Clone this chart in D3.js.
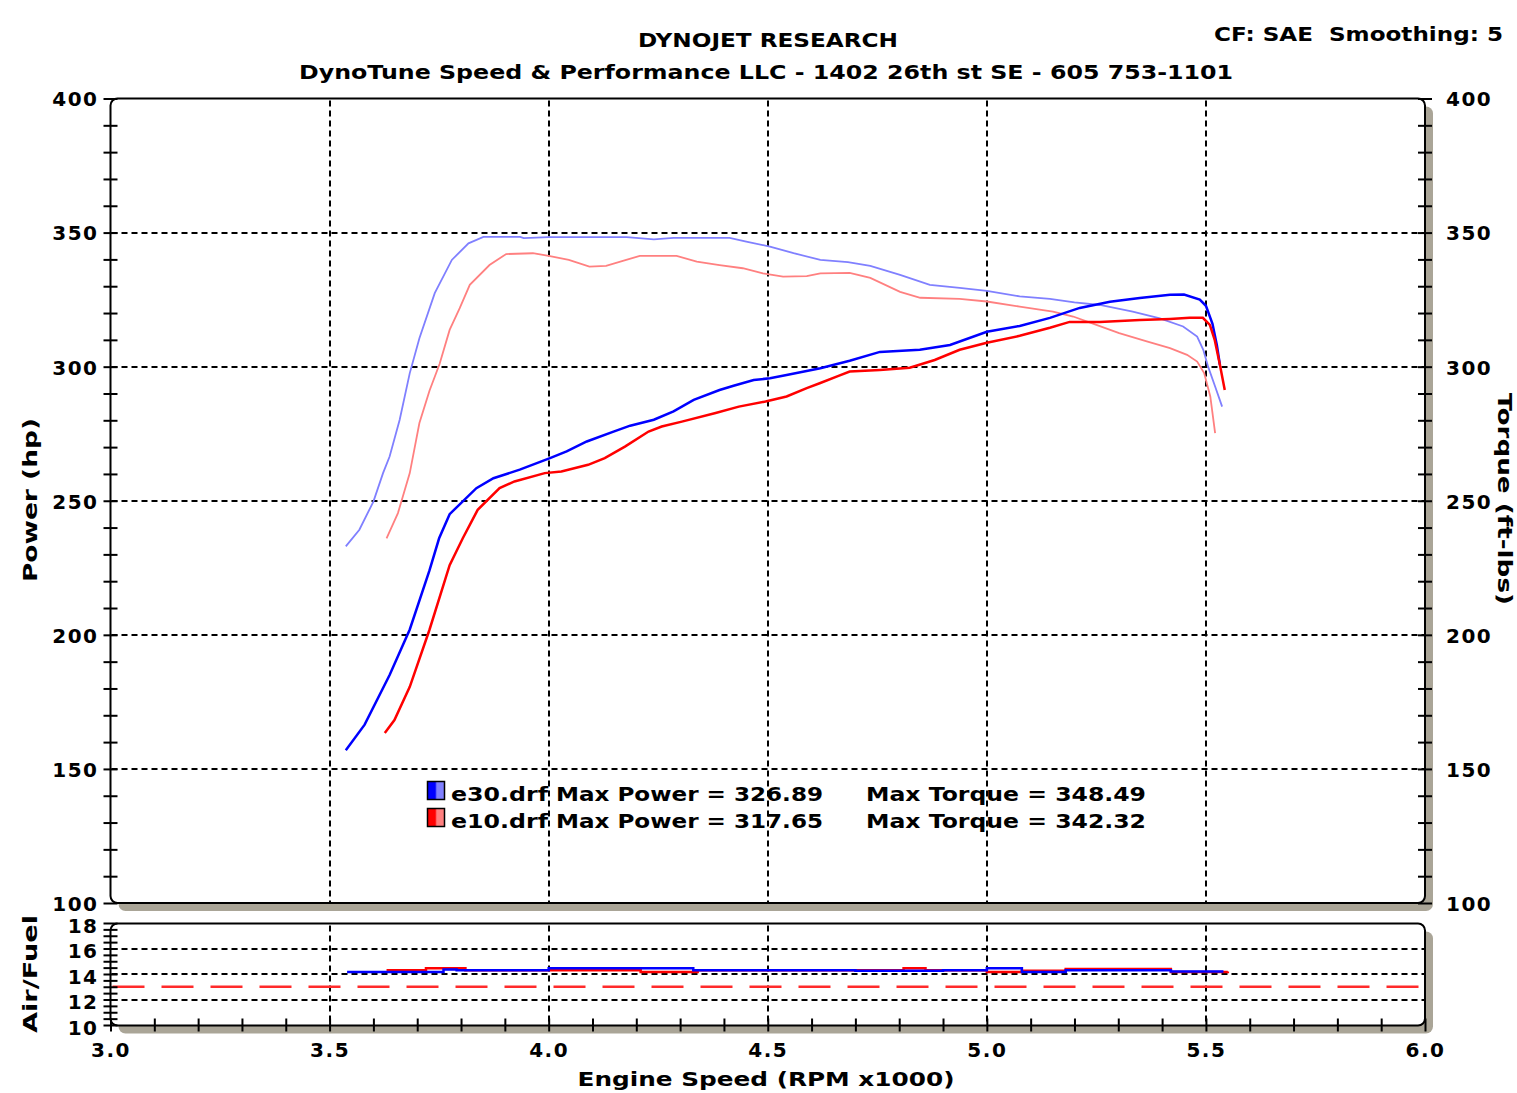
<!DOCTYPE html>
<html><head><meta charset="utf-8">
<script src="https://cdn.jsdelivr.net/npm/d3@7"></script>
<style>
html,body{margin:0;padding:0;background:#fff;}
text{font-family:"DejaVu Sans",Verdana,sans-serif;font-weight:bold;fill:#000;}
</style></head>
<body>
<script>
// ---------------- DATA ----------------
const e30PowerRpm = [3.537,3.58,3.637,3.683,3.728,3.75,3.774,3.835,3.874,3.934,4.003,4.041,4.087,4.148,4.186,4.24,4.285,4.331,4.39,4.422,4.468,4.505,4.543,4.62,4.687,4.756,4.847,4.916,5.0,5.075,5.144,5.212,5.281,5.349,5.418,5.45,5.486,5.5,5.515,5.525,5.532];
const e30Power    = [157,166.5,185,202,224,236,245,254.7,258.4,261.6,265.9,268.4,272.1,275.8,278,280.2,283.3,287.6,291.3,292.9,295,295.7,296.9,299.4,302.2,305.5,306.3,308.1,313,315.2,318.2,321.9,324.2,325.6,326.8,326.9,325,322.7,316,308,300.6];

const e10PowerRpm = [3.626,3.648,3.683,3.728,3.774,3.804,3.838,3.888,3.922,3.991,4.029,4.09,4.128,4.174,4.228,4.258,4.304,4.381,4.434,4.495,4.543,4.589,4.62,4.66,4.687,4.756,4.824,4.881,4.938,5.0,5.075,5.144,5.189,5.258,5.349,5.418,5.463,5.493,5.509,5.52,5.532,5.543];
const e10Power    = [163.4,168.2,180.6,201.9,226,236,246.6,254.7,257.2,260.3,260.9,263.4,265.9,270.2,275.8,277.7,279.5,282.7,285.1,287,288.9,292,293.9,296.5,298.2,298.8,299.6,302.5,306.3,308.9,311.5,314.5,316.7,316.7,317.4,317.8,318.2,318.2,315.6,310,300.6,291.3];

const e30TorqueRpm = [3.537,3.568,3.6,3.622,3.637,3.66,3.683,3.705,3.74,3.779,3.817,3.851,3.935,3.943,4.0,4.178,4.24,4.285,4.413,4.451,4.505,4.559,4.62,4.683,4.734,4.802,4.87,4.938,5.0,5.075,5.144,5.2,5.258,5.333,5.395,5.448,5.48,5.494,5.505,5.521,5.537];
const e30Torque    = [233,239.2,249.7,260.3,266.5,280.2,297.6,310.6,327.4,339.8,346,348.4,348.4,347.9,348.3,348.3,347.5,348,348,346.6,344.8,342.3,339.8,339,337.6,334.2,330.5,329.4,328.3,326.2,325.3,324,323,320.5,318,315,311.2,306.3,300,292.6,285.1];

const e10TorqueRpm = [3.63,3.656,3.683,3.705,3.728,3.751,3.774,3.797,3.82,3.865,3.903,3.964,4.0,4.046,4.093,4.131,4.177,4.208,4.292,4.338,4.39,4.443,4.489,4.535,4.589,4.62,4.687,4.734,4.802,4.848,4.938,5.0,5.075,5.151,5.197,5.25,5.302,5.365,5.418,5.457,5.48,5.496,5.51,5.521];
const e10Torque    = [236,245.4,260.3,279,291,301,313.7,321.8,330.5,337.9,342,342.3,341.3,339.8,337.3,337.6,339.8,341.3,341.3,339.2,337.9,336.7,334.8,333.6,333.8,334.8,335,333.1,327.9,325.7,325.3,324.3,322.4,320.5,318.7,315.6,312.5,309.4,306.9,304.4,301.9,297.6,288.9,275.2];

const e30AfrRpm = [3.54,3.76,3.79,4.0,4.33,4.6,4.7,4.9,5.0,5.08,5.18,5.42,5.54];
const e30Afr    = [14.15,14.35,14.3,14.45,14.3,14.3,14.25,14.3,14.45,14.15,14.3,14.2,14.2];
const e10AfrRpm = [3.63,3.72,3.81,4.21,4.34,4.81,4.86,5.0,5.08,5.18,5.42,5.55];
const e10Afr    = [14.3,14.45,14.3,14.15,14.3,14.45,14.3,14.15,14.25,14.4,14.15,14.2];
const afrTarget = 13.0;

const rpmTicks   = [3.0,3.5,4.0,4.5,5.0,5.5,6.0];
const powerTicks = [100,150,200,250,300,350,400];
const afrTicks   = [10,12,14,16,18];

const legendNames   = ["e30.drf","e10.drf"];
const legendPower   = ["Max Power = 326.89","Max Power = 317.65"];
const legendTorque  = ["Max Torque = 348.49","Max Torque = 342.32"];

// ---------------- LAYOUT ----------------
const W = 1517, H = 1093;
const X0 = 110.5, X1 = 1425;
const MY0 = 98.5, MY1 = 903;
const AY0 = 923.5, AY1 = 1025.5;
const SHADOW = "#aaa597";
const DARK_B = "#0000ff", LIGHT_B = "#8080ff", DARK_R = "#ff0000", LIGHT_R = "#ff8080";

const svg = d3.select("body").append("svg").attr("width", W).attr("height", H);

const x = d3.scaleLinear().domain([3, 6]).range([X0, X1]);
const y = d3.scaleLinear().domain([100, 400]).range([MY1, MY0]);
const ya = d3.scaleLinear().domain([10, 18]).range([AY1 - 0.5, AY0 - 0.5]);

// gradients for legend swatches
const defs = svg.append("defs");
[[ "gb", DARK_B, LIGHT_B ], [ "gr", DARK_R, LIGHT_R ]].forEach(([id, a, b]) => {
  const g = defs.append("linearGradient").attr("id", id).attr("x1", "0").attr("x2", "1").attr("y1", "0").attr("y2", "0");
  g.append("stop").attr("offset", "0").attr("stop-color", a);
  g.append("stop").attr("offset", "0.45").attr("stop-color", a);
  g.append("stop").attr("offset", "0.55").attr("stop-color", b);
  g.append("stop").attr("offset", "1").attr("stop-color", b);
});

function panel(y0, y1) {
  svg.append("rect").attr("x", X0 + 8).attr("y", y0 + 8).attr("width", X1 - X0).attr("height", y1 - y0)
    .attr("rx", 7).attr("fill", SHADOW);
  svg.append("rect").attr("x", X0).attr("y", y0).attr("width", X1 - X0).attr("height", y1 - y0)
    .attr("rx", 7).attr("fill", "#fff").attr("stroke", "none");
}
panel(MY0, MY1);
panel(AY0, AY1);

// gridlines
const gridStyle = sel => sel.attr("stroke", "#000").attr("stroke-width", 2).attr("stroke-dasharray", "6,4");
const grid = svg.append("g");
grid.selectAll(".vm").data(rpmTicks.slice(1, -1)).join("line")
  .attr("x1", d => Math.round(x(d))).attr("x2", d => Math.round(x(d))).attr("y1", MY0 + 2).attr("y2", MY1 - 1).call(gridStyle);
grid.selectAll(".hm").data(powerTicks.slice(1, -1)).join("line").attr("class", "hm")
  .attr("x1", X0 + 1).attr("x2", X1 - 1).attr("y1", d => Math.round(y(d))).attr("y2", d => Math.round(y(d))).call(gridStyle);
grid.selectAll(".va").data(rpmTicks.slice(1, -1)).join("line").attr("class", "va")
  .attr("x1", d => Math.round(x(d))).attr("x2", d => Math.round(x(d))).attr("y1", AY0 + 2).attr("y2", AY1 - 1).call(gridStyle);
grid.selectAll(".ha").data(afrTicks.slice(1, -1)).join("line").attr("class", "ha")
  .attr("x1", X0 + 1).attr("x2", X1 - 1).attr("y1", d => Math.round(ya(d))).attr("y2", d => Math.round(ya(d))).call(gridStyle);

// AFR target
svg.append("line").attr("x1", X0 + 2).attr("x2", X1 - 1).attr("y1", ya(afrTarget)).attr("y2", ya(afrTarget))
  .attr("stroke", "#ff2a2a").attr("stroke-width", 2.5).attr("stroke-dasharray", "32,17");

// panel borders on top of grid
[[MY0, MY1], [AY0, AY1]].forEach(([y0, y1]) => {
  svg.append("rect").attr("x", X0).attr("y", y0).attr("width", X1 - X0).attr("height", y1 - y0)
    .attr("rx", 7).attr("fill", "none").attr("stroke", "#000").attr("stroke-width", 2);
});

// curves
const line = (xs, ys, sy, curve) => d3.line().x((d, i) => x(xs[i])).y((d, i) => sy(ys[i])).curve(curve || d3.curveLinear)(ys);
const curves = svg.append("g");
curves.append("path").attr("d", line(e30TorqueRpm, e30Torque, y)).attr("fill", "none").attr("stroke", LIGHT_B).attr("stroke-width", 1.8);
curves.append("path").attr("d", line(e10TorqueRpm, e10Torque, y)).attr("fill", "none").attr("stroke", LIGHT_R).attr("stroke-width", 1.8);
curves.append("path").attr("d", line(e30PowerRpm, e30Power, y)).attr("fill", "none").attr("stroke", DARK_B).attr("stroke-width", 2.5);
curves.append("path").attr("d", line(e10PowerRpm, e10Power, y)).attr("fill", "none").attr("stroke", DARK_R).attr("stroke-width", 2.5);
curves.append("path").attr("d", line(e10AfrRpm, e10Afr, ya, d3.curveStepAfter)).attr("fill", "none").attr("stroke", DARK_R).attr("stroke-width", 2.5);
curves.append("path").attr("d", line(e30AfrRpm, e30Afr, ya, d3.curveStepAfter)).attr("fill", "none").attr("stroke", DARK_B).attr("stroke-width", 2.5);

// axes
const FS = 20, LS = "1.5px";
function styleTicks(g, dy) {
  g.select(".domain").remove();
  g.selectAll(".tick line").attr("stroke", "#000").attr("stroke-width", 2);
  g.selectAll("text").attr("font-size", FS).attr("letter-spacing", LS).attr("font-family", null);
  if (dy) g.selectAll("text").attr("transform", `translate(0,${dy})`);
}
// left main minor ticks
const gLm = svg.append("g").attr("transform", `translate(${X0},0)`)
  .call(d3.axisLeft(y).tickValues(d3.range(100, 401, 10)).tickSize(7).tickFormat(""));
styleTicks(gLm); gLm.selectAll(".tick line").attr("x1", 7);
const gL = svg.append("g").attr("transform", `translate(${X0 - 1},0)`)
  .call(d3.axisLeft(y).tickValues(powerTicks).tickSize(0).tickPadding(11).tickFormat(d3.format("d")));
styleTicks(gL, 1);
// right
const gRm = svg.append("g").attr("transform", `translate(${X1},0)`)
  .call(d3.axisRight(y).tickValues(d3.range(100, 401, 10)).tickSize(7).tickFormat(""));
styleTicks(gRm); gRm.selectAll(".tick line").attr("x1", -7);
const gR = svg.append("g").attr("transform", `translate(${X1},0)`)
  .call(d3.axisRight(y).tickValues(powerTicks).tickSize(0).tickPadding(21).tickFormat(d3.format("d")));
styleTicks(gR, 1);
// afr left
const gAm = svg.append("g").attr("transform", `translate(${X0},0)`)
  .call(d3.axisLeft(ya).tickValues(d3.range(10, 18.01, 0.5)).tickSize(7).tickFormat(""));
styleTicks(gAm); gAm.selectAll(".tick line").attr("x1", 7);
const gA = svg.append("g").attr("transform", `translate(${X0 - 1},0)`)
  .call(d3.axisLeft(ya).tickValues(afrTicks).tickSize(0).tickPadding(11).tickFormat(d3.format("d")));
styleTicks(gA, 3);
// bottom
const gBm = svg.append("g").attr("transform", `translate(0,${AY1})`)
  .call(d3.axisBottom(x).tickValues(d3.range(30, 61, 1).map(d => d / 10)).tickSize(6).tickFormat(""));
styleTicks(gBm); gBm.selectAll(".tick line").attr("y1", -7);
const gB = svg.append("g").attr("transform", `translate(0,${AY1})`)
  .call(d3.axisBottom(x).tickValues(rpmTicks).tickSize(0).tickPadding(17).tickFormat(d3.format(".1f")));
styleTicks(gB);

// titles
const T = (txt, x0, y0, anchor, len) => {
  const t = svg.append("text").attr("x", x0).attr("y", y0).attr("text-anchor", anchor || "middle")
    .attr("font-size", FS).text(txt);
  if (len) t.attr("textLength", len).attr("lengthAdjust", "spacingAndGlyphs");
  return t;
};
T("DYNOJET RESEARCH", 768, 47, "middle", 260);
T("DynoTune Speed & Performance LLC - 1402 26th st SE - 605 753-1101", 766, 79, "middle", 934);
T("CF: SAE  Smoothing: 5", 1503, 41, "end", 289).attr("xml:space", "preserve");
T("Engine Speed (RPM x1000)", 766, 1086, "middle", 377);

svg.append("text").attr("transform", "translate(37,500) rotate(-90)").attr("text-anchor", "middle")
  .attr("font-size", FS).attr("textLength", 164).attr("lengthAdjust", "spacingAndGlyphs").text("Power (hp)");
svg.append("text").attr("transform", "translate(1498,499) rotate(90)").attr("text-anchor", "middle")
  .attr("font-size", FS).attr("textLength", 212).attr("lengthAdjust", "spacingAndGlyphs").text("Torque (ft-lbs)");
svg.append("text").attr("transform", "translate(37,974) rotate(-90)").attr("text-anchor", "middle")
  .attr("font-size", FS).attr("textLength", 118).attr("lengthAdjust", "spacingAndGlyphs").text("Air/Fuel");

// legend
const lg = svg.append("g");
["gb", "gr"].forEach((g, i) => {
  const yy = 781 + i * 27;
  lg.append("rect").attr("x", 427.5).attr("y", yy + 0.5).attr("width", 17).attr("height", 18)
    .attr("fill", `url(#${g})`).attr("stroke", "#000").attr("stroke-width", 1.5);
  lg.append("text").attr("x", 451).attr("y", yy + 20).attr("font-size", FS)
    .attr("textLength", 97).attr("lengthAdjust", "spacingAndGlyphs").text(legendNames[i]);
  lg.append("text").attr("x", 556).attr("y", yy + 20).attr("font-size", FS)
    .attr("textLength", 267).attr("lengthAdjust", "spacingAndGlyphs").text(legendPower[i]);
  lg.append("text").attr("x", 866).attr("y", yy + 20).attr("font-size", FS)
    .attr("textLength", 280).attr("lengthAdjust", "spacingAndGlyphs").text(legendTorque[i]);
});
</script>
</body></html>
